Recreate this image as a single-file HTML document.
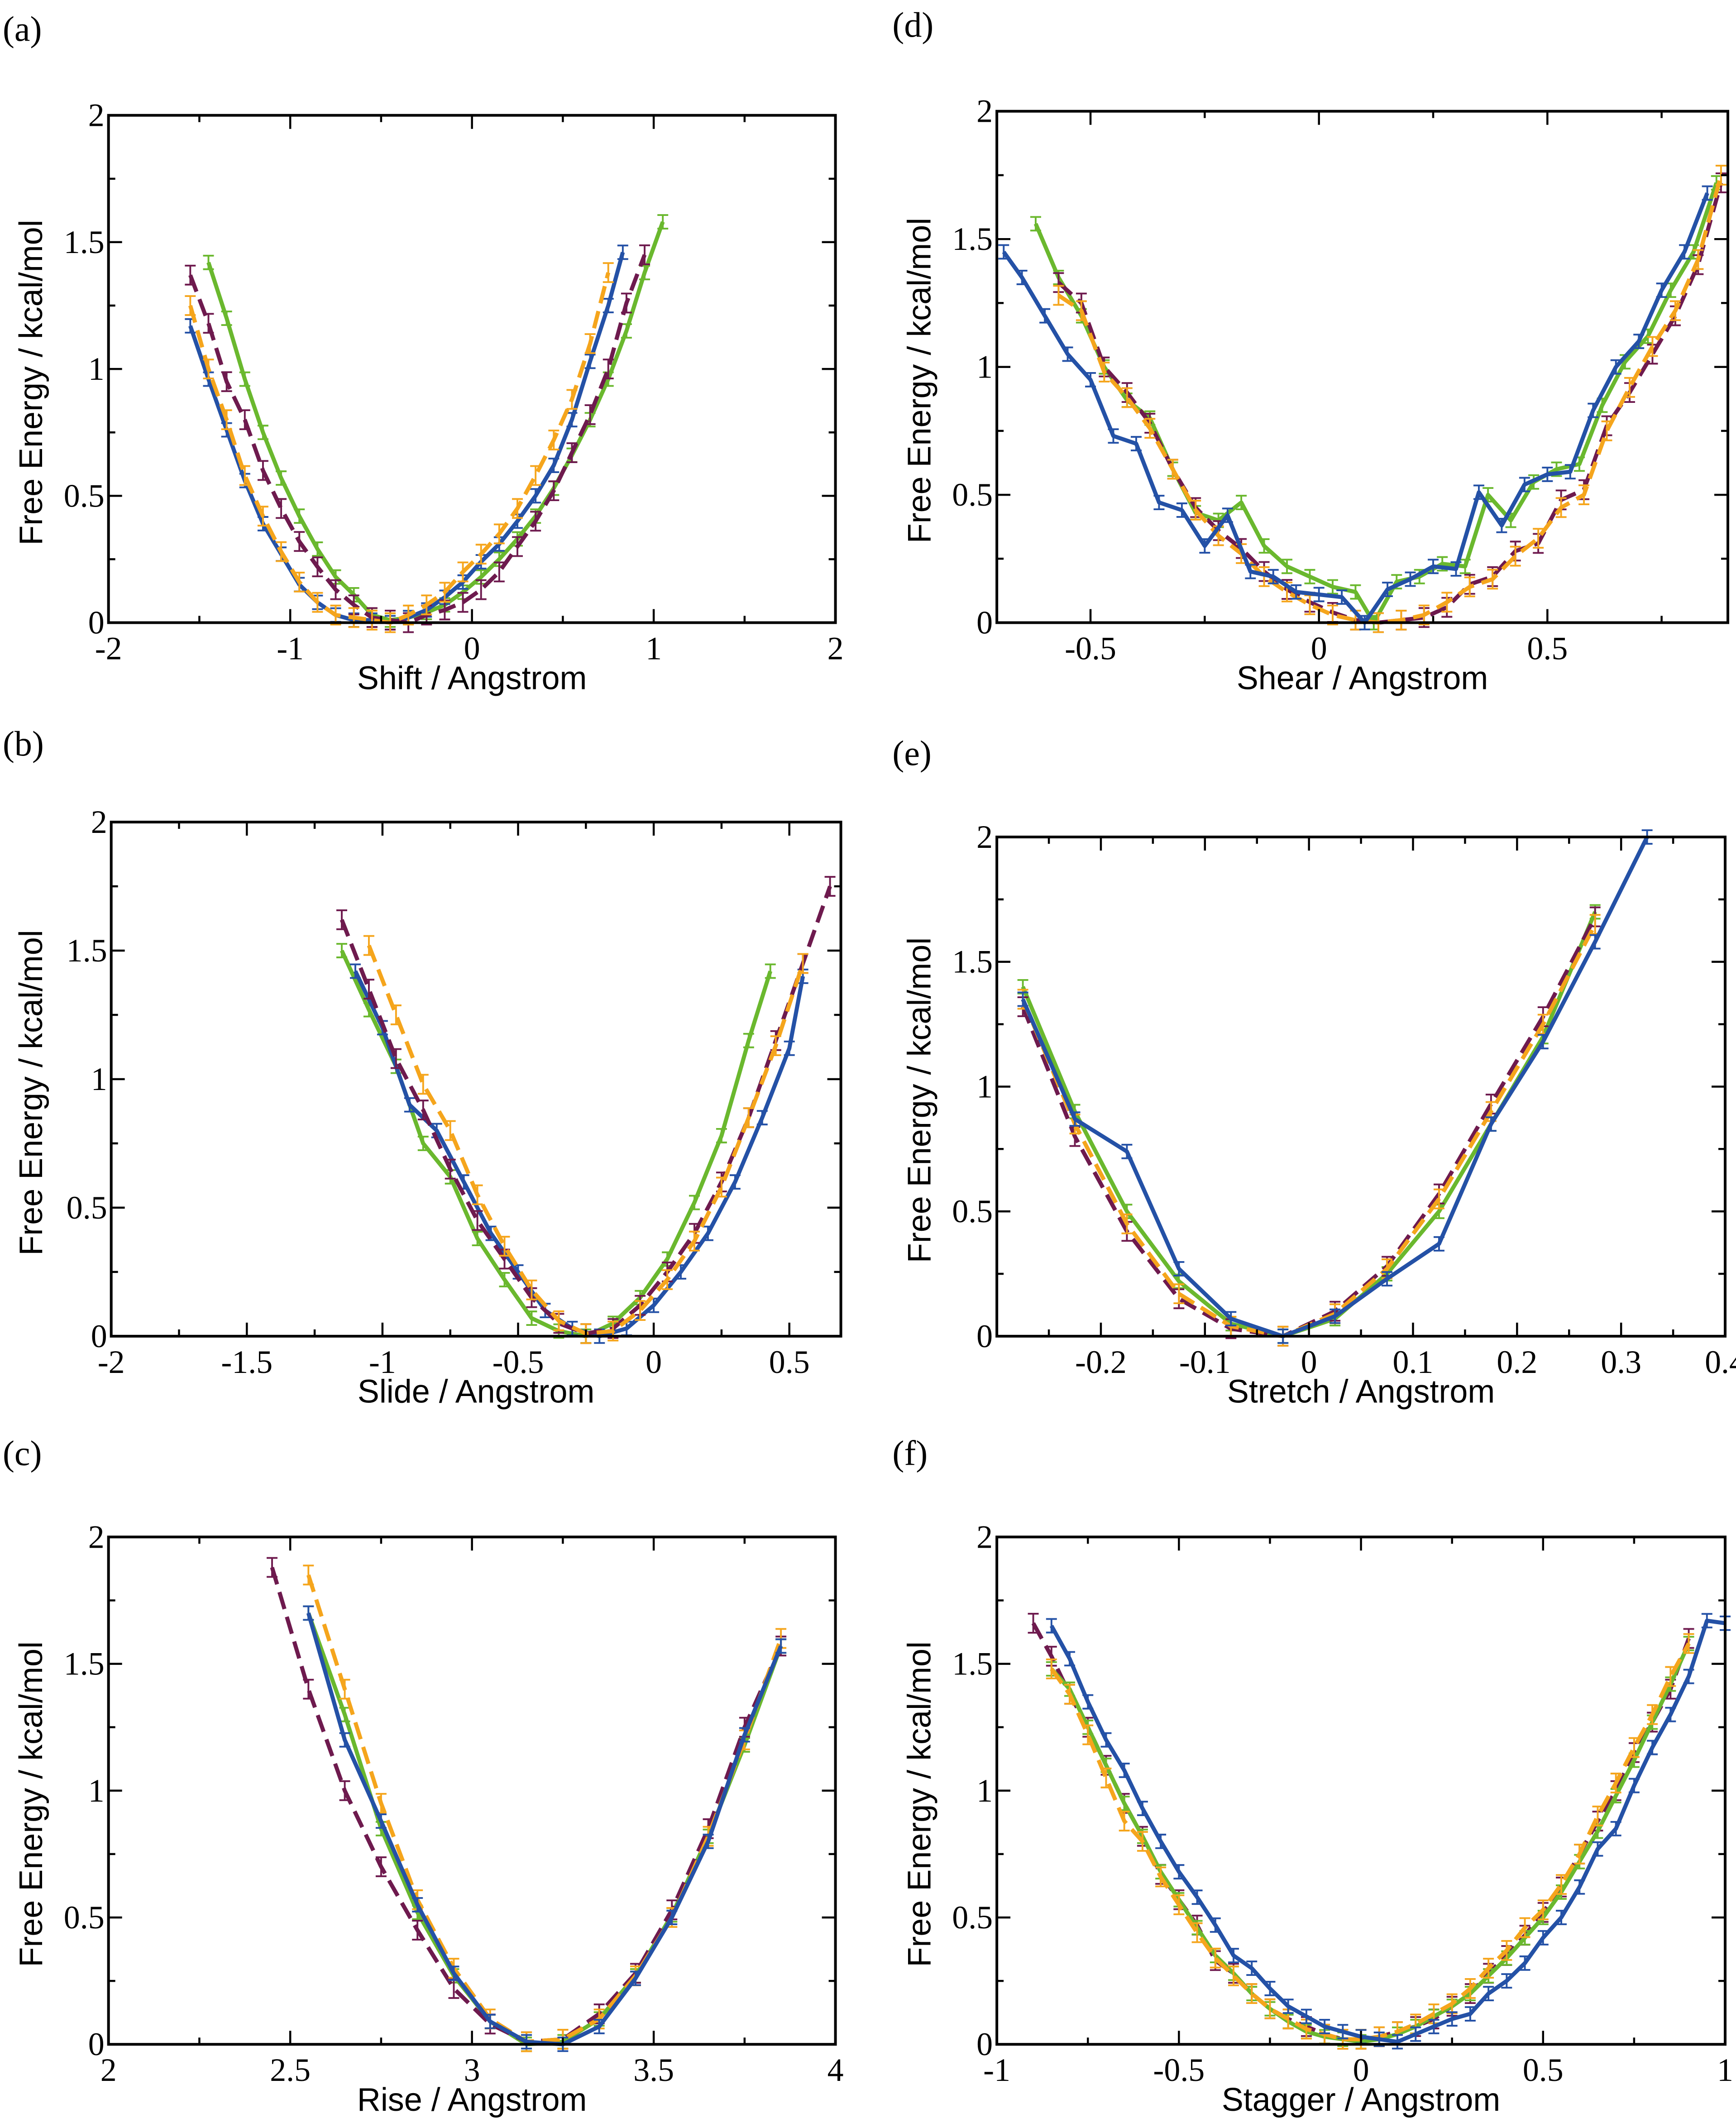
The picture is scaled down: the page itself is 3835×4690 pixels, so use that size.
<!DOCTYPE html>
<html><head><meta charset="utf-8"><style>
html,body{margin:0;padding:0;background:#fff;}
svg{display:block;}
</style></head><body>
<svg id="fig" xmlns="http://www.w3.org/2000/svg" width="3835" height="4690" viewBox="0 0 1280 1565" preserveAspectRatio="none"></svg>
<script>
const panelLabels=["(a)","(b)","(c)","(d)","(e)","(f)"];
const xTitles=["Shift / Angstrom","Slide / Angstrom","Rise / Angstrom","Shear / Angstrom","Stretch / Angstrom","Stagger / Angstrom"];
const xTickLabelsA=["-2","-1","0","1","2"];
const xTickLabelsB=["-2","-1.5","-1","-0.5","0","0.5"];
const xTickLabelsC=["2","2.5","3","3.5","4"];
const xTickLabelsD=["-0.5","0","0.5"];
const xTickLabelsE=["-0.2","-0.1","0","0.1","0.2","0.3","0.4"];
const xTickLabelsF=["-1","-0.5","0","0.5","1"];
const yTickLabels=["0","0.5","1","1.5","2"];

// Panel (a) Shift
const aGreenX=[-1.45,-1.35,-1.25,-1.15,-1.05,-0.95,-0.85,-0.75,-0.65,-0.55,-0.45,-0.35,-0.25,-0.15,-0.05,0.05,0.15,0.25,0.35,0.45,0.55,0.65,0.75,0.85,0.95,1.05];
const aGreenY=[1.42,1.2,0.96,0.75,0.57,0.42,0.29,0.18,0.11,0.03,0.01,0.02,0.04,0.07,0.12,0.18,0.25,0.33,0.42,0.53,0.66,0.8,0.96,1.15,1.38,1.58];
const aBlueX=[-1.55,-1.45,-1.35,-1.25,-1.15,-1.05,-0.95,-0.85,-0.75,-0.65,-0.55,-0.45,-0.35,-0.25,-0.15,-0.05,0.05,0.15,0.25,0.35,0.45,0.55,0.65,0.75,0.83];
const aBlueY=[1.17,0.96,0.76,0.56,0.39,0.27,0.15,0.08,0.03,0.01,0.01,0.0,0.02,0.05,0.1,0.16,0.24,0.31,0.4,0.5,0.62,0.8,1.03,1.25,1.46];
const aMaroonX=[-1.55,-1.45,-1.35,-1.25,-1.15,-1.05,-0.95,-0.85,-0.75,-0.65,-0.55,-0.45,-0.35,-0.25,-0.15,-0.05,0.05,0.15,0.25,0.35,0.45,0.55,0.65,0.75,0.85,0.95];
const aMaroonY=[1.37,1.18,0.95,0.8,0.6,0.45,0.32,0.22,0.13,0.07,0.02,0.01,0.0,0.03,0.05,0.08,0.13,0.2,0.3,0.4,0.52,0.67,0.82,1.0,1.26,1.45];
const aOrangeX=[-1.55,-1.45,-1.35,-1.25,-1.15,-1.05,-0.95,-0.85,-0.75,-0.65,-0.55,-0.45,-0.35,-0.25,-0.15,-0.05,0.05,0.15,0.25,0.35,0.45,0.55,0.65,0.75];
const aOrangeY=[1.25,1.0,0.8,0.58,0.42,0.28,0.16,0.08,0.03,0.02,0.01,0.0,0.03,0.07,0.12,0.2,0.27,0.35,0.45,0.58,0.72,0.88,1.1,1.38];

// Panel (b) Slide
const bGreenX=[-1.15,-1.05,-0.95,-0.85,-0.75,-0.65,-0.55,-0.45,-0.35,-0.25,-0.15,-0.05,0.05,0.15,0.25,0.35,0.43];
const bGreenY=[1.5,1.27,1.05,0.75,0.62,0.38,0.22,0.07,0.02,0.0,0.05,0.15,0.3,0.52,0.78,1.15,1.42];
const bBlueX=[-1.1,-1.0,-0.9,-0.8,-0.7,-0.6,-0.5,-0.4,-0.3,-0.2,-0.1,0.0,0.1,0.2,0.3,0.4,0.5,0.55];
const bBlueY=[1.42,1.2,0.9,0.8,0.6,0.4,0.25,0.1,0.03,0.0,0.03,0.12,0.25,0.4,0.6,0.85,1.12,1.4];
const bMaroonX=[-1.15,-1.05,-0.95,-0.85,-0.75,-0.65,-0.55,-0.45,-0.35,-0.25,-0.15,-0.05,0.05,0.15,0.25,0.35,0.45,0.55,0.65];
const bMaroonY=[1.62,1.35,1.08,0.88,0.65,0.45,0.3,0.15,0.05,0.01,0.03,0.12,0.25,0.4,0.6,0.85,1.15,1.45,1.75];
const bOrangeX=[-1.05,-0.95,-0.85,-0.75,-0.65,-0.55,-0.45,-0.35,-0.25,-0.15,-0.05,0.05,0.15,0.25,0.35,0.45,0.55];
const bOrangeY=[1.52,1.25,0.98,0.8,0.55,0.35,0.18,0.06,0.01,0.02,0.1,0.22,0.37,0.58,0.85,1.13,1.45];

// Panel (c) Rise
const cMaroonX=[2.45,2.55,2.65,2.75,2.85,2.95,3.05,3.15,3.25,3.35,3.45,3.55,3.65,3.75,3.85];
const cMaroonY=[1.88,1.4,1.0,0.7,0.45,0.22,0.08,0.01,0.02,0.12,0.28,0.53,0.85,1.25,1.57];
const cOrangeX=[2.55,2.65,2.75,2.85,2.95,3.05,3.15,3.25,3.35,3.45,3.55,3.65,3.75,3.85];
const cOrangeY=[1.85,1.4,0.95,0.57,0.3,0.1,0.01,0.02,0.1,0.27,0.5,0.82,1.2,1.6];
const cGreenX=[2.55,2.65,2.75,2.85,2.95,3.05,3.15,3.25,3.35,3.45,3.55,3.65,3.75,3.85];
const cGreenY=[1.7,1.3,0.85,0.52,0.27,0.09,0.0,0.01,0.1,0.27,0.51,0.82,1.18,1.57];
const cBlueX=[2.55,2.65,2.75,2.85,2.95,3.05,3.15,3.25,3.35,3.45,3.55,3.65,3.75,3.85];
const cBlueY=[1.7,1.2,0.88,0.55,0.28,0.09,0.01,0.0,0.07,0.26,0.5,0.8,1.22,1.57];

// Panel (d) Shear
const dBlueX=[-0.69,-0.65,-0.6,-0.55,-0.5,-0.45,-0.4,-0.35,-0.3,-0.25,-0.2,-0.15,-0.1,-0.05,0,0.05,0.1,0.15,0.2,0.25,0.3,0.35,0.4,0.45,0.5,0.55,0.6,0.65,0.7,0.75,0.8,0.85];
const dBlueY=[1.45,1.35,1.2,1.05,0.95,0.73,0.7,0.47,0.44,0.3,0.42,0.2,0.18,0.12,0.11,0.1,0.0,0.13,0.17,0.22,0.21,0.51,0.38,0.54,0.58,0.59,0.83,1.0,1.1,1.3,1.45,1.68];
const dGreenX=[-0.62,-0.57,-0.52,-0.47,-0.42,-0.37,-0.32,-0.27,-0.22,-0.17,-0.12,-0.07,-0.02,0.03,0.08,0.12,0.17,0.22,0.27,0.32,0.37,0.42,0.47,0.52,0.57,0.62,0.67,0.72,0.77,0.82,0.87];
const dGreenY=[1.56,1.35,1.2,1.0,0.87,0.8,0.6,0.43,0.4,0.47,0.3,0.22,0.18,0.14,0.12,0.0,0.16,0.18,0.23,0.22,0.5,0.4,0.55,0.6,0.62,0.85,1.02,1.12,1.3,1.45,1.72];
const dMaroonX=[-0.57,-0.52,-0.47,-0.42,-0.37,-0.32,-0.27,-0.22,-0.17,-0.12,-0.07,-0.02,0.03,0.08,0.13,0.18,0.23,0.28,0.33,0.38,0.43,0.48,0.53,0.58,0.63,0.68,0.73,0.78,0.83,0.88];
const dMaroonY=[1.33,1.25,1.0,0.9,0.78,0.6,0.45,0.36,0.29,0.2,0.13,0.08,0.04,0.01,0.0,0.01,0.02,0.06,0.15,0.18,0.28,0.31,0.48,0.52,0.77,0.9,1.05,1.2,1.4,1.72];
const dOrangeX=[-0.57,-0.52,-0.47,-0.42,-0.37,-0.32,-0.27,-0.22,-0.17,-0.12,-0.07,-0.02,0.03,0.08,0.13,0.18,0.23,0.28,0.33,0.38,0.43,0.48,0.53,0.58,0.63,0.68,0.73,0.78,0.83,0.88];
const dOrangeY=[1.28,1.22,0.98,0.88,0.76,0.6,0.44,0.34,0.27,0.18,0.12,0.07,0.03,0.01,0.0,0.01,0.03,0.08,0.14,0.17,0.26,0.33,0.45,0.5,0.75,0.92,1.08,1.22,1.42,1.75];

// Panel (e) Stretch
const eGreenX=[-0.275,-0.225,-0.175,-0.125,-0.075,-0.025,0.025,0.075,0.125,0.175,0.225,0.275];
const eGreenY=[1.4,0.9,0.5,0.22,0.05,0.0,0.07,0.25,0.5,0.85,1.2,1.7];
const eBlueX=[-0.275,-0.225,-0.175,-0.125,-0.075,-0.025,0.025,0.075,0.125,0.175,0.225,0.275,0.325];
const eBlueY=[1.35,0.87,0.74,0.27,0.07,0.0,0.08,0.23,0.37,0.85,1.18,1.58,2.0];
const eMaroonX=[-0.275,-0.225,-0.175,-0.125,-0.075,-0.025,0.025,0.075,0.125,0.175,0.225,0.275];
const eMaroonY=[1.32,0.8,0.42,0.15,0.03,0.0,0.1,0.28,0.57,0.93,1.28,1.68];
const eOrangeX=[-0.275,-0.225,-0.175,-0.125,-0.075,-0.025,0.025,0.075,0.125,0.175,0.225,0.275];
const eOrangeY=[1.35,0.85,0.45,0.17,0.04,0.0,0.09,0.27,0.55,0.9,1.25,1.65];

// Panel (f) Stagger
const fBlueX=[-0.85,-0.8,-0.75,-0.7,-0.65,-0.6,-0.55,-0.5,-0.45,-0.4,-0.35,-0.3,-0.25,-0.2,-0.15,-0.1,-0.05,0,0.05,0.1,0.15,0.2,0.25,0.3,0.35,0.4,0.45,0.5,0.55,0.6,0.65,0.7,0.75,0.8,0.85,0.9,0.95,1.0];
const fBlueY=[1.65,1.52,1.35,1.2,1.08,0.93,0.8,0.68,0.58,0.47,0.35,0.3,0.22,0.15,0.11,0.07,0.05,0.03,0.02,0.01,0.04,0.07,0.1,0.12,0.2,0.25,0.32,0.42,0.5,0.62,0.77,0.85,1.02,1.17,1.3,1.45,1.67,1.66];
const fMaroonX=[-0.9,-0.85,-0.8,-0.75,-0.7,-0.65,-0.6,-0.55,-0.5,-0.45,-0.4,-0.35,-0.3,-0.25,-0.2,-0.15,-0.1,-0.05,0,0.05,0.1,0.15,0.2,0.25,0.3,0.35,0.4,0.45,0.5,0.55,0.6,0.65,0.7,0.75,0.8,0.85,0.9];
const fMaroonY=[1.66,1.53,1.38,1.25,1.1,0.95,0.82,0.67,0.57,0.47,0.33,0.28,0.2,0.14,0.1,0.07,0.04,0.02,0.02,0.03,0.05,0.07,0.1,0.15,0.2,0.28,0.35,0.43,0.52,0.62,0.75,0.88,1.0,1.15,1.27,1.4,1.6];
const fGreenX=[-0.85,-0.8,-0.75,-0.7,-0.65,-0.6,-0.55,-0.5,-0.45,-0.4,-0.35,-0.3,-0.25,-0.2,-0.15,-0.1,-0.05,0,0.05,0.1,0.15,0.2,0.25,0.3,0.35,0.4,0.45,0.5,0.55,0.6,0.65,0.7,0.75,0.8,0.85,0.9];
const fGreenY=[1.48,1.4,1.25,1.1,0.95,0.82,0.68,0.57,0.46,0.35,0.28,0.2,0.14,0.09,0.05,0.03,0.02,0.01,0.02,0.04,0.07,0.11,0.15,0.2,0.27,0.34,0.42,0.5,0.6,0.72,0.84,0.98,1.12,1.27,1.42,1.58];
const fOrangeX=[-0.85,-0.8,-0.75,-0.7,-0.65,-0.6,-0.55,-0.5,-0.45,-0.4,-0.35,-0.3,-0.25,-0.2,-0.15,-0.1,-0.05,0,0.05,0.1,0.15,0.2,0.25,0.3,0.35,0.4,0.45,0.5,0.55,0.6,0.65,0.7,0.75,0.8,0.85,0.9];
const fOrangeY=[1.48,1.38,1.22,1.05,0.88,0.8,0.66,0.55,0.44,0.34,0.27,0.2,0.14,0.1,0.06,0.04,0.02,0.02,0.03,0.05,0.08,0.12,0.16,0.22,0.3,0.37,0.46,0.53,0.63,0.75,0.9,1.03,1.17,1.3,1.45,1.58];

const NS="http://www.w3.org/2000/svg";
const svg=document.getElementById('fig');
const COL={green:"#6ab82e",blue:"#2451a6",maroon:"#6e1a4e",orange:"#f5a51c"};
function mk(tag,attrs,parent){const e=document.createElementNS(NS,tag);for(const k in attrs)e.setAttribute(k,attrs[k]);(parent||svg).appendChild(e);return e;}

const panels=[
 {lab:0,L:80,R:616,T:85,B:459,x0:-2,x1:2,ticks:xTickLabelsA,major:1,minor:0.5,labY:30,
  series:[["green",aGreenX,aGreenY],["blue",aBlueX,aBlueY],["maroon",aMaroonX,aMaroonY],["orange",aOrangeX,aOrangeY]]},
 {lab:1,L:82,R:620,T:606,B:985,x0:-2,x1:0.69,ticks:xTickLabelsB,major:0.5,minor:0.25,labY:557,
  series:[["green",bGreenX,bGreenY],["blue",bBlueX,bBlueY],["maroon",bMaroonX,bMaroonY],["orange",bOrangeX,bOrangeY]]},
 {lab:2,L:80,R:616,T:1133,B:1507,x0:2,x1:4,ticks:xTickLabelsC,major:0.5,minor:0.25,labY:1080,
  series:[["green",cGreenX,cGreenY],["maroon",cMaroonX,cMaroonY],["orange",cOrangeX,cOrangeY],["blue",cBlueX,cBlueY]]},
 {lab:3,L:735,R:1274,T:82,B:459,x0:-0.705,x1:0.895,ticks:xTickLabelsD,major:0.5,minor:0.25,labY:27,
  series:[["green",dGreenX,dGreenY],["maroon",dMaroonX,dMaroonY],["orange",dOrangeX,dOrangeY],["blue",dBlueX,dBlueY]]},
 {lab:4,L:735,R:1272,T:617,B:985,x0:-0.3,x1:0.4,ticks:xTickLabelsE,major:0.1,minor:0.05,labY:564,
  series:[["green",eGreenX,eGreenY],["maroon",eMaroonX,eMaroonY],["orange",eOrangeX,eOrangeY],["blue",eBlueX,eBlueY]]},
 {lab:5,L:735,R:1272,T:1133,B:1507,x0:-1,x1:1,ticks:xTickLabelsF,major:0.5,minor:0.25,labY:1080,
  series:[["maroon",fMaroonX,fMaroonY],["green",fGreenX,fGreenY],["orange",fOrangeX,fOrangeY],["blue",fBlueX,fBlueY]]}
];
const letters="abcdef";
panels.forEach((p,i)=>{
  const g=mk('g',{});
  
  
  const sx=v=>p.L+(v-p.x0)/(p.x1-p.x0)*(p.R-p.L);
  const sy=v=>p.B-v/2*(p.B-p.T);
  const pl=mk('text',{x:p.L<300?2:658,y:p.labY,'font-family':'Liberation Serif, serif','font-size':26},g);
  pl.textContent=panelLabels[p.lab];
  
  
  p.series.forEach(s=>{
    const [c,xs,ys]=s;
    const sg=mk('g',{},g);
    
    
    const dashed=(c==="maroon"||c==="orange");
    let d="";
    xs.forEach((x,k)=>{d+=(k?"L":"M")+sx(x).toFixed(2)+","+sy(ys[k]).toFixed(2);});
    const ln=mk('path',{d:d,fill:'none',stroke:COL[c],'stroke-width':3,'stroke-linejoin':'round'},sg);
    if(dashed) ln.setAttribute('stroke-dasharray','13,6');
    
    
    xs.forEach((x,k)=>{
      const px=sx(x),py=sy(ys[k]),e=(c==="blue"||c==="green")?5:7;
      const eb=mk('path',{d:`M${px},${py-e}V${py+e}M${px-4},${py-e}H${px+4}M${px-4},${py+e}H${px+4}`,stroke:COL[c],'stroke-width':1.3,fill:'none'},sg);
      
      
    });
  });
  const fr=mk('rect',{x:p.L,y:p.T,width:p.R-p.L,height:p.B-p.T,fill:'none',stroke:'#000','stroke-width':2},g);
  
  
  let td="";
  const n0=Math.ceil(p.x0/p.minor-1e-6),n1=Math.floor(p.x1/p.minor+1e-6);
  for(let n=n0;n<=n1;n++){
    const v=n*p.minor,px=sx(v);
    const isMaj=Math.abs(v/p.major-Math.round(v/p.major))<1e-6;
    const len=isMaj?10:5;
    td+=`M${px},${p.B}V${p.B-len}M${px},${p.T}V${p.T+len}`;
  }
  for(let n=0;n<=8;n++){
    const v=n*0.25,py=sy(v),len=(n%2===0)?10:5;
    td+=`M${p.L},${py}H${p.L+len}M${p.R},${py}H${p.R-len}`;
  }
  const tk=mk('path',{d:td,stroke:'#000','stroke-width':1.5,fill:'none'},g);
  
  
  p.ticks.forEach(t=>{
    const v=parseFloat(t);
    const tl=mk('text',{x:sx(v),y:p.B+27,'text-anchor':'middle','font-family':'Liberation Serif, serif','font-size':24},g);
    tl.textContent=t;
    
    
  });
  yTickLabels.forEach(t=>{
    const tl=mk('text',{x:p.L-3,y:sy(parseFloat(t))+8,'text-anchor':'end','font-family':'Liberation Serif, serif','font-size':24},g);
    tl.textContent=t;
    
    
  });
  const xt=mk('text',{x:(p.L+p.R)/2,y:p.B+49,'text-anchor':'middle','font-family':'Liberation Sans, sans-serif','font-size':24},g);
  xt.textContent=xTitles[p.lab];
  
  
  const cy=(p.T+p.B)/2+10, cx=p.L<300?31:686;
  const yt=mk('text',{x:cx,y:cy,'text-anchor':'middle','font-family':'Liberation Sans, sans-serif','font-size':24,transform:`rotate(-90 ${cx} ${cy})`},g);
  yt.textContent="Free Energy / kcal/mol";
  
  
});
</script>
</body></html>
